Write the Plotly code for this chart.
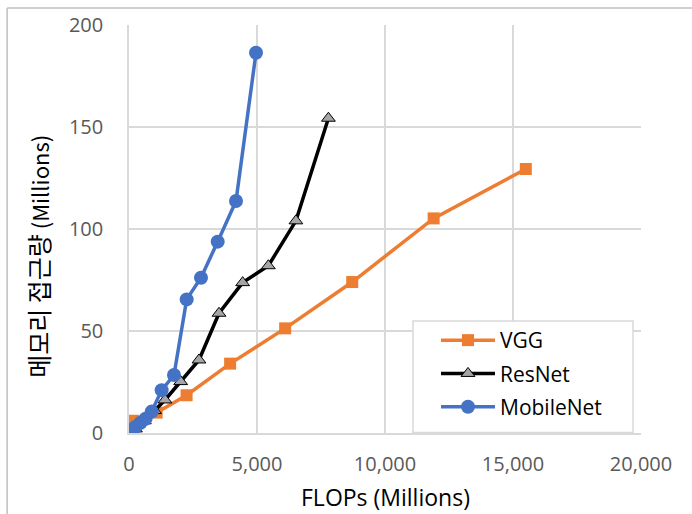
import plotly.graph_objects as go

# Data
vgg_flops = [170, 1080, 2250, 3950, 6100, 8720, 11900, 15500]
vgg_mem = [6, 10, 18.5, 34, 51.3, 74, 105.2, 129.4]

resnet_flops = [250, 600, 1000, 1406, 2018, 2734, 3516, 4440, 5443, 6520, 7790]
resnet_mem = [2, 6, 11, 16.2, 25.2, 35.8, 58.7, 73.7, 82, 104, 154.3]

mobilenet_flops = [80, 250, 450, 650, 886, 1276, 1758, 2253, 2812, 3464, 4180, 4961]
mobilenet_mem = [0.8, 3, 5, 7, 10.5, 21, 28.4, 65.5, 76.1, 93.8, 113.7, 186.4]

x_ticks = [0, 5000, 10000, 15000, 20000]
x_tick_labels = ["0", "5,000", "10,000", "15,000", "20,000"]
y_ticks = [0, 50, 100, 150, 200]

x_title = "FLOPs (Millions)"
y_title_ko = "메모리 접근량"
y_title_en = "(Millions)"

fig = go.Figure()
fig.add_trace(go.Scatter(
    x=vgg_flops, y=vgg_mem, name="VGG", mode="lines+markers", legendgroup="a",
    line=dict(color="#ED7D31", width=3.5),
    marker=dict(symbol="square", size=12, color="#ED7D31"),
))
fig.add_trace(go.Scatter(
    x=resnet_flops, y=resnet_mem, name="ResNet", mode="lines+markers", legendgroup="b",
    line=dict(color="#000000", width=3.5),
    marker=dict(symbol="triangle-up", size=12, color="#A5A5A5",
                line=dict(color="#000000", width=1)),
))
fig.add_trace(go.Scatter(
    x=mobilenet_flops, y=mobilenet_mem, name="MobileNet", mode="lines+markers", legendgroup="c",
    line=dict(color="#4472C4", width=3.5),
    marker=dict(symbol="circle", size=14, color="#4472C4"),
))

tick_font = dict(family="Open Sans, Noto Sans, sans-serif", size=20, color="#595959")

fig.update_layout(
    width=692, height=514,
    margin=dict(l=129, r=51, t=25, b=81),
    paper_bgcolor="white", plot_bgcolor="white",
    showlegend=True,
    legend=dict(
        x=0.5996, y=0.277, xanchor="left", yanchor="top",
        bgcolor="rgba(0,0,0,0)", borderwidth=0,
        font=dict(family="Open Sans, Noto Sans, sans-serif", size=21, color="#000000"),
        tracegroupgap=3, itemwidth=54,
    ),
    xaxis=dict(
        range=[0, 20000], tickvals=x_ticks, ticktext=x_tick_labels,
        showgrid=True, gridcolor="#D9D9D9", gridwidth=1.5,
        zeroline=False, showline=True, linecolor="#D9D9D9", linewidth=1.5,
        tickfont=tick_font, ticks="", ticklen=0, ticklabelstandoff=12,
    ),
    yaxis=dict(
        range=[0, 200], tickvals=y_ticks,
        showgrid=True, gridcolor="#D9D9D9", gridwidth=1.5,
        zeroline=False, showline=True, linecolor="#D9D9D9", linewidth=1.5,
        tickfont=tick_font, ticks="", ticklen=0, ticklabelstandoff=20,
    ),
    annotations=[
        dict(text=x_title, xref="paper", yref="paper", x=0.5, y=-0.157,
             xanchor="center", yanchor="middle", showarrow=False,
             font=dict(family="Open Sans, Noto Sans, sans-serif", size=23, color="#000000")),
        dict(text=f"<span style='font-size:25px'>{y_title_ko}</span> {y_title_en}",
             xref="paper", yref="paper", x=-0.178, y=0.434, textangle=-90,
             xanchor="center", yanchor="middle", showarrow=False,
             font=dict(family="Noto Sans CJK KR, Open Sans, sans-serif", size=22, color="#000000")),
    ],
    shapes=[
        # legend frame
        dict(type="rect", xref="paper", yref="paper", layer="above",
             x0=(413 - 129) / 512, x1=(633 - 129) / 512,
             y0=(433 - 433) / 408 + 0.001, y1=(433 - 321) / 408,
             fillcolor="white", line=dict(color="#D9D9D9", width=1.5)),
        # chart outer border (top and left visible)
        dict(type="line", xref="paper", yref="paper",
             x0=-0.238, x1=1.2, y0=1.0417, y1=1.0417,
             line=dict(color="#BFBFBF", width=1.5)),
        dict(type="line", xref="paper", yref="paper",
             x0=-0.238, x1=-0.238, y0=1.0417, y1=-0.3,
             line=dict(color="#BFBFBF", width=1.5)),
    ],
)

fig.write_html("out.html", config={"displayModeBar": False},
               post_script="document.body.style.margin='0';")
